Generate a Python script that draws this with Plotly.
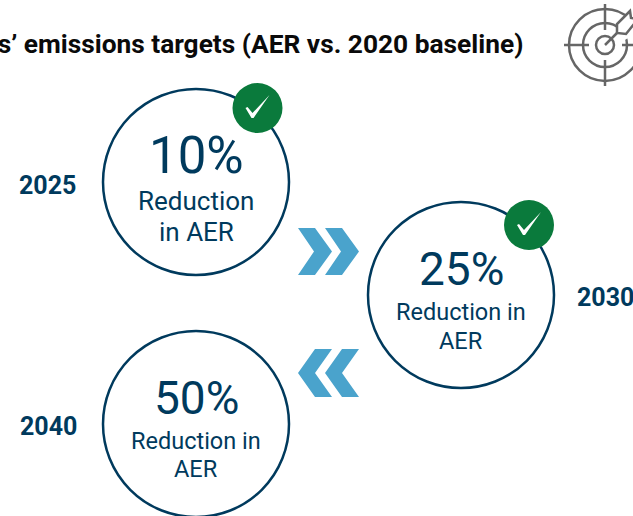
import plotly.graph_objects as go

title = "Banks’ emissions targets (AER vs. 2020 baseline)"
years = ["2025", "2030", "2040"]
reductions = ["10%", "25%", "50%"]
captions = [["Reduction", "in AER"], ["Reduction in", "AER"], ["Reduction in", "AER"]]

NAVY = "#003A5D"
GREEN = "#0A7A3C"
BLUE = "#4AA3CC"
GREY = "#666666"
FONT = "Roboto"

centers = [(196, 182), (461, 295), (196, 424)]
year_pos = [(47.5, 185), (605.5, 297), (48.5, 426)]
pct_y = [155, 269, 398]
pct_size = [51, 46, 46]
cap_y = [(201, 232), (312, 341), (441, 469)]
cap_size = [26, 23.5, 23.5]
R = 93

shapes = []
annots = []


def circle(cx, cy, r, **kw):
    shapes.append(dict(type="circle", x0=cx - r, x1=cx + r, y0=cy - r, y1=cy + r, **kw))


def path(d, **kw):
    shapes.append(dict(type="path", path=d, **kw))


def text(x, y, s, size, color=NAVY, anchor="center"):
    annots.append(dict(x=x, y=y, text=s, showarrow=False, xanchor=anchor, yanchor="middle", align="center",
                       font=dict(family=FONT, size=size, color=color)))


for i, (cx, cy) in enumerate(centers):
    circle(cx, cy, R, line=dict(color=NAVY, width=2.5), fillcolor="rgba(0,0,0,0)")
    text(cx, pct_y[i], reductions[i], pct_size[i])
    for line, y in zip(captions[i], cap_y[i]):
        text(cx, y, line, cap_size[i])
    text(year_pos[i][0], year_pos[i][1], f"<b>{years[i]}</b>", 25)

for cx, cy in [(257.5, 108), (529, 225)]:
    circle(cx, cy, 25, line=dict(width=0), fillcolor=GREEN)
    path(f"M{cx-12},{cy} L{cx-10},{cy-1} L{cx-5},{cy+5} L{cx+12},{cy-13} L{cx-4},{cy+10} L{cx-6},{cy+10} Z",
         fillcolor="white", line=dict(width=0))

# chevrons
for dx in (0, 27):
    path(f"M{298+dx},228 L{315+dx},228 L{332+dx},251.5 L{315+dx},275 L{298+dx},275 L{314+dx},251.5 Z",
         fillcolor=BLUE, line=dict(width=0))
    path(f"M{332+dx},349 L{315+dx},349 L{298+dx},373 L{315+dx},397 L{332+dx},397 L{315+dx},373 Z",
         fillcolor=BLUE, line=dict(width=0))

# target icon
ic = (605, 45)
for r in (36, 22, 9):
    circle(ic[0], ic[1], r, line=dict(color=GREY, width=2.5), fillcolor="rgba(0,0,0,0)")
for a, b, c, d in [(564, 45, 589, 45), (622, 45, 640, 45), (605, 4, 605, 30), (605, 60, 605, 86)]:
    shapes.append(dict(type="line", x0=a, y0=b, x1=c, y1=d, line=dict(color=GREY, width=2.5)))
path("M612,38 L640,10 L640,30 L625,40 Z", fillcolor="white", line=dict(width=0))
path("M605,45 L620,30", line=dict(color=GREY, width=2.5))
path("M617,33 L617,24 L630,11 L631,18 L638,19 L626,34 Z", fillcolor="white", line=dict(color=GREY, width=2.5))

text(525, 44, f"<b>{title}</b>", 26.3, color="#0A0A0A", anchor="right")

fig = go.Figure()
fig.update_layout(
    width=633, height=516, margin=dict(l=0, r=0, t=0, b=0),
    paper_bgcolor="white", plot_bgcolor="white", showlegend=False,
    xaxis=dict(range=[0, 633], visible=False, fixedrange=True),
    yaxis=dict(range=[516, 0], visible=False, fixedrange=True),
    shapes=shapes, annotations=annots,
)
fig.write_html("out.html", config=dict(displayModeBar=False),
               post_script="document.body.style.margin='0';document.body.style.overflow='hidden';")
